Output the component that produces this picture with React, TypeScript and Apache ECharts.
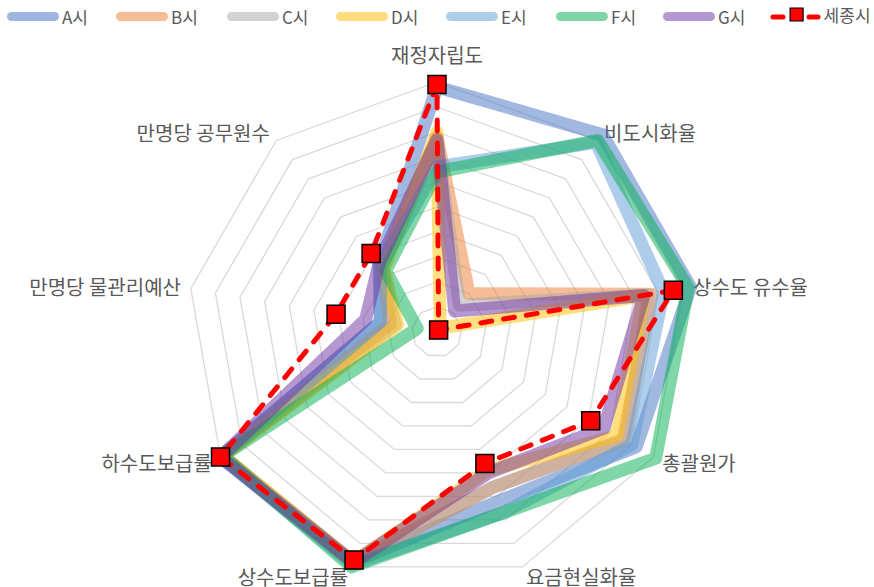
import React, { useEffect, useRef } from "react";
import * as echarts from "echarts";

// ---------- data (clockwise from the top) ----------
const indicatorNames = [
  "재정자립도",
  "비도시화율",
  "상수도 유수율",
  "총괄원가",
  "요금현실화율",
  "상수도보급률",
  "하수도보급률",
  "만명당 물관리예산",
  "만명당 공무원수",
];
const indicatorMax = 100;
const splitCount = 10;

const cityNames = ["A시", "B시", "C시", "D시", "E시", "F시", "G시"];
const cityA = [98, 103, 103, 92, 72, 98, 100, 23, 36];
const cityB = [78, 20, 87, 86, 66, 98, 99, 19, 34];
const cityC = [76, 14, 86, 87, 66, 98, 99, 17, 34];
const cityD = [80, 2, 84, 83, 59, 98, 99, 16, 33];
const cityE = [66, 99, 92, 90, 77, 99, 100, 23, 35];
const cityF = [64, 100, 102, 101, 77, 100, 99, 8, 32];
const cityG = [77, 11, 84, 77, 60, 98, 100, 29, 36];
const cityValues = [cityA, cityB, cityC, cityD, cityE, cityF, cityG];

const sejongName = "세종시";
const sejong = [99, 1, 96, 71, 56, 97, 100, 41, 41];

// ECharts lays radar indicators counter-clockwise; this maps them so they read clockwise
const displayOrder = [0, 8, 7, 6, 5, 4, 3, 2, 1];
const reorder = (arr: any[]) => displayOrder.map((k) => arr[k]);

// ---------- styles ----------
const lineColors = ["#4472C4", "#ED7D31", "#A5A5A5", "#FFC000", "#5B9BD5", "#00B050", "#7030A0"];
const legendColors = ["#9FB5E1", "#F5BD95", "#D2D2D2", "#FFDD7F", "#ADCDEA", "#80D5A8", "#B598D2"];
const legendLefts = [7, 116, 227, 336, 446, 556, 663, 770];
const FONT = "'Noto Sans CJK KR', 'Noto Sans', sans-serif";
const TEXT_COLOR = "#595959";
const PILL = "path://M4.5,0H47.5A4.5,4.5 0 0 1 47.5,9H4.5A4.5,4.5 0 0 1 4.5,0Z";
const SQUARE_IN_BOX = "path://M0,0M52,13M19.5,0H32.5V13H19.5Z";

export default function App() {
  const ref = useRef<HTMLDivElement>(null);

  useEffect(() => {
    if (!ref.current) return;
    const chart = echarts.init(ref.current, undefined, { renderer: "svg" });

    const citySeries = cityNames.map((name, i) => ({
      type: "radar",
      name,
      symbol: "none",
      silent: true,
      z: 2,
      lineStyle: {
        color: lineColors[i],
        width: 13,
        opacity: 0.5,
        join: "round",
        cap: "round",
      },
      itemStyle: { color: lineColors[i] },
      emphasis: { disabled: true },
      data: [{ name, value: reorder(cityValues[i]) }],
    }));

    const sejongSeries = {
      type: "radar",
      name: sejongName,
      symbol: "rect",
      symbolSize: 18,
      silent: true,
      z: 5,
      lineStyle: {
        color: "#FF0000",
        width: 5,
        type: [11, 12],
        cap: "round",
        opacity: 1,
      },
      itemStyle: { color: "#FF0000", borderColor: "#000000", borderWidth: 1.5 },
      emphasis: { disabled: true },
      data: [{ name: sejongName, value: reorder(sejong) }],
    };

    const legends: any[] = cityNames.map((name, i) => ({
      left: legendLefts[i],
      top: 8,
      padding: 0,
      itemWidth: 52,
      itemHeight: 9,
      selectedMode: false,
      textStyle: { color: TEXT_COLOR, fontSize: 17, fontFamily: FONT, padding: [0, 0, 0, -2] },
      data: [{ name, icon: PILL, itemStyle: { color: legendColors[i], opacity: 1, borderWidth: 0 } }],
    }));
    legends.push({
      left: legendLefts[7],
      top: 6,
      padding: 0,
      itemWidth: 52,
      itemHeight: 13,
      selectedMode: false,
      textStyle: { color: TEXT_COLOR, fontSize: 17, fontFamily: FONT, padding: [0, 0, 0, -4] },
      data: [
        {
          name: sejongName,
          icon: SQUARE_IN_BOX,
          itemStyle: { color: "#FF0000", borderColor: "#000000", borderWidth: 1.2, opacity: 1 },
        },
      ],
    });

    chart.setOption({
      animation: false,
      backgroundColor: "#ffffff",
      textStyle: { fontFamily: FONT },
      legend: legends,
      graphic: [
        {
          type: "line",
          z: 10,
          shape: { x1: 773, y1: 17, x2: 783, y2: 17 },
          style: { stroke: "#FF0000", lineWidth: 5, lineCap: "round" },
        },
        {
          type: "line",
          z: 10,
          shape: { x1: 809, y1: 17, x2: 818, y2: 17 },
          style: { stroke: "#FF0000", lineWidth: 5, lineCap: "round" },
        },
      ],
      radar: {
        center: [437, 332],
        radius: 250,
        startAngle: 90,
        shape: "polygon",
        splitNumber: splitCount,
        nameGap: 10,
        axisName: {
          color: TEXT_COLOR,
          fontSize: 20,
          fontFamily: FONT,
          formatter: (name: string) => (name === indicatorNames[0] ? `{top|${name}}` : name),
          rich: {
            top: { color: TEXT_COLOR, fontSize: 20, fontFamily: FONT, padding: [0, 0, 8, 0] },
          },
        },
        axisLine: { show: false },
        axisTick: { show: false },
        axisLabel: { show: false },
        splitArea: { show: false },
        splitLine: { lineStyle: { color: "#D9D9D9", width: 1.3 } },
        indicator: reorder(indicatorNames).map((name: string) => ({ name, min: 0, max: indicatorMax })),
      },
      series: [...citySeries, sejongSeries],
    });

    return () => chart.dispose();
  }, []);

  return (
    <div
      ref={ref}
      style={{ position: "fixed", left: 0, top: 0, width: 874, height: 587, background: "#fff" }}
    />
  );
}
